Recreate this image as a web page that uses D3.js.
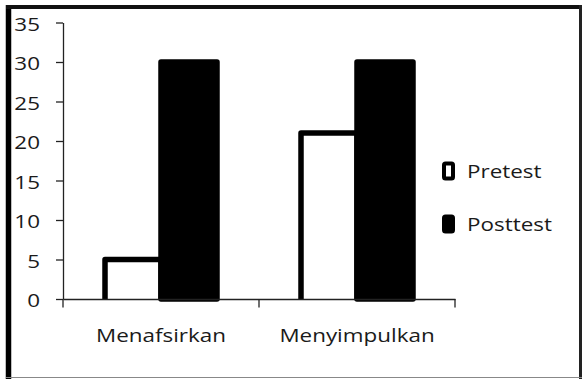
<!DOCTYPE html>
<html>
<head>
<meta charset="utf-8">
<script src="https://cdn.jsdelivr.net/npm/d3@7"></script>
<style>
  html, body { margin: 0; padding: 0; background: #fff; }
  svg { display: block; }
  text { font-family: "Open Sans", "Noto Sans", sans-serif; fill: #1a1a1a; }
</style>
</head>
<body>
<svg id="chart" width="582" height="379"></svg>
<script>
// Scores per skill, before and after the treatment
const categories = ["Menafsirkan", "Menyimpulkan"];
const seriesNames = ["Pretest", "Posttest"];
const pretest = [5, 21];
const posttest = [30, 30];
const yTicks = [0, 5, 10, 15, 20, 25, 30, 35];

const svg = d3.select("#chart");
const W = 582, H = 379;

// plot area
const plot = { left: 63, right: 455, top: 22.5, bottom: 299 };

const y = d3.scaleLinear().domain([0, 35]).range([plot.bottom, plot.top]);
const x0 = d3.scaleBand().domain(categories).range([plot.left, plot.right]).padding(0);
const x1 = d3.scaleBand().domain(seriesNames).range([0, x0.bandwidth()])
  .paddingInner(0).paddingOuter(0.75);

const series = [
  { name: "Pretest", values: pretest, fill: "#fff" },
  { name: "Posttest", values: posttest, fill: "#000" }
];

// outer frame
const frame = svg.append("g");
frame.append("line").attr("x1", 8.5).attr("x2", 8.5).attr("y1", 5).attr("y2", H)
  .attr("stroke", "#000").attr("stroke-width", 5.5);
frame.append("line").attr("x1", 6).attr("x2", W).attr("y1", 7).attr("y2", 7)
  .attr("stroke", "#111").attr("stroke-width", 4);
frame.append("line").attr("x1", 580.5).attr("x2", 580.5).attr("y1", 5).attr("y2", H)
  .attr("stroke", "#222").attr("stroke-width", 3);
frame.append("line").attr("x1", 6).attr("x2", W).attr("y1", 377.5).attr("y2", 377.5)
  .attr("stroke", "#888").attr("stroke-width", 1);

// bars: three-sided outline, open at the baseline
const bars = svg.append("g");
series.forEach(s => {
  bars.selectAll(null)
    .data(categories.map((c, i) => ({ c, v: s.values[i] })))
    .join("path")
    .attr("d", d => {
      const xa = x0(d.c) + x1(s.name);
      const xb = xa + x1.bandwidth();
      const p = d3.path();
      p.moveTo(xa, y(0));
      p.lineTo(xa, y(d.v));
      p.lineTo(xb, y(d.v));
      p.lineTo(xb, y(0));
      if (s.fill !== "#fff") p.closePath();
      return p.toString();
    })
    .attr("fill", s.fill)
    .attr("stroke", "#000")
    .attr("stroke-width", 5.5)
    .attr("stroke-linejoin", "round");
});

// y axis
const yAxis = svg.append("g")
  .attr("transform", `translate(${plot.left},0)`)
  .call(d3.axisLeft(y).tickValues(yTicks).tickSize(7).tickSizeOuter(0).tickPadding(16));
yAxis.select(".domain").attr("stroke", "#222").attr("stroke-width", 1.3);
yAxis.selectAll(".tick line").attr("stroke", "#222").attr("stroke-width", 1.3);
yAxis.selectAll(".tick text")
  .attr("font-size", 19).attr("dy", 7.5).attr("font-family", null).attr("fill", null);

// x axis: baseline, boundary ticks and centred category labels
const xAxis = svg.append("g")
  .attr("transform", `translate(0,${plot.bottom})`)
  .call(d3.axisBottom(x0).tickSize(0).tickSizeOuter(0).tickPadding(28));
xAxis.select(".domain").attr("stroke", "#222").attr("stroke-width", 1.3);
xAxis.selectAll(".tick text")
  .attr("font-size", 19).attr("dy", 0).attr("font-family", null).attr("fill", null)
  .attr("y", 43);
const bounds = categories.map(c => x0(c)).concat([x0.range()[1]]);
xAxis.selectAll(".bound").data(bounds).join("line")
  .attr("class", "bound")
  .attr("x1", d => d).attr("x2", d => d)
  .attr("y1", 0).attr("y2", 8.5)
  .attr("stroke", "#222").attr("stroke-width", 1.3);
xAxis.attr("font-family", null);
yAxis.attr("font-family", null);

// legend
const legend = svg.append("g");
const legendY = [171, 224];
series.forEach((s, i) => {
  legend.append("rect")
    .attr("x", 444).attr("y", legendY[i] - 7.5)
    .attr("width", 9).attr("height", 15).attr("rx", 1.5)
    .attr("fill", s.fill).attr("stroke", "#000").attr("stroke-width", 4)
    .attr("stroke-linejoin", "round");
  legend.append("text")
    .attr("x", 467).attr("y", legendY[i] + 7)
    .attr("font-size", 19)
    .text(s.name);
});

// widen glyphs horizontally to the chart's typographic proportions
svg.selectAll("text").each(function () {
  const w = this.getComputedTextLength();
  d3.select(this).attr("textLength", w * 1.18).attr("lengthAdjust", "spacingAndGlyphs");
});
</script>
</body>
</html>
